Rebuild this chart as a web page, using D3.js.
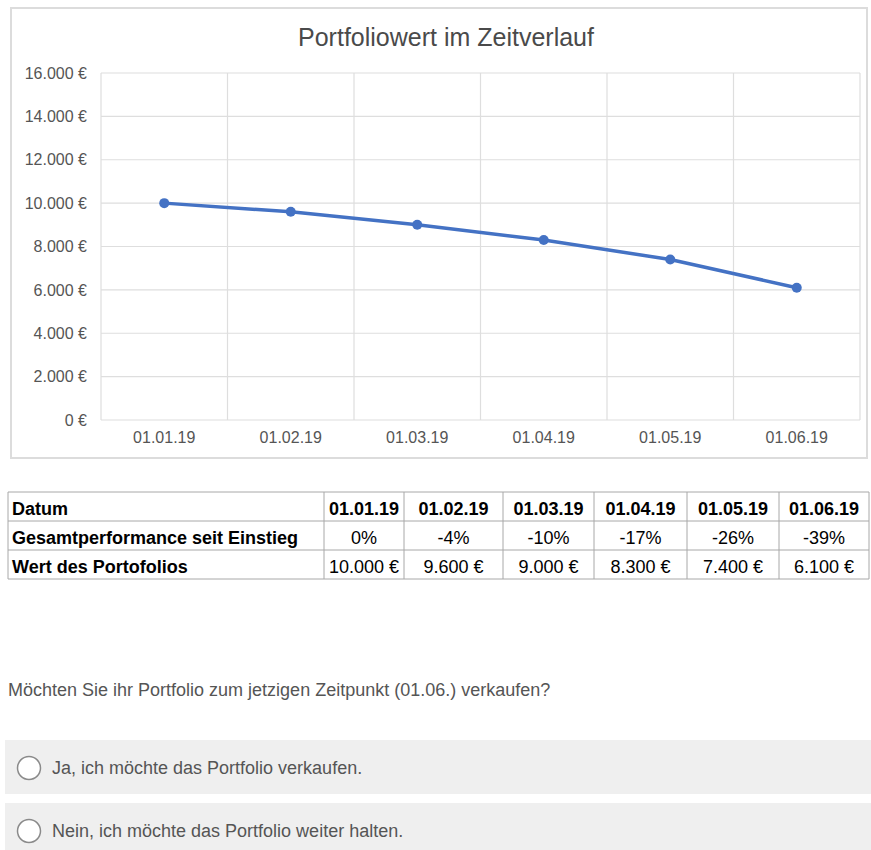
<!DOCTYPE html>
<html lang="de">
<meta charset="UTF-8">
<title>Portfoliowert im Zeitverlauf</title>
<script src="https://cdnjs.cloudflare.com/ajax/libs/d3/7.8.5/d3.min.js"></script>
<style>
  body { margin: 0; background: #fff; font-family: "Liberation Sans", Arial, sans-serif; }
  svg text { font-family: "Liberation Sans", Arial, sans-serif; }
</style>
<body>
<svg id="chart" width="871" height="850"></svg>
<script>
// data
var dates = ["01.01.19", "01.02.19", "01.03.19", "01.04.19", "01.05.19", "01.06.19"];
var values = [10000, 9600, 9000, 8300, 7400, 6100];
var performance = ["0%", "-4%", "-10%", "-17%", "-26%", "-39%"];
var yTicks = [0, 2000, 4000, 6000, 8000, 10000, 12000, 14000, 16000];
var rowLabels = ["Datum", "Gesamtperformance seit Einstieg", "Wert des Portofolios"];
var question = "Möchten Sie ihr Portfolio zum jetzigen Zeitpunkt (01.06.) verkaufen?";
var answers = ["Ja, ich möchte das Portfolio verkaufen.", "Nein, ich möchte das Portfolio weiter halten."];

var de = d3.formatLocale({decimal: ",", thousands: ".", grouping: [3], currency: ["", " €"]});
var euro = de.format("$,.0f");

var svg = d3.select("#chart");

// chart frame
svg.append("rect")
    .attr("x", 11).attr("y", 8).attr("width", 856).attr("height", 450)
    .attr("fill", "#fff").attr("stroke", "#dcdcdc").attr("stroke-width", 2);

svg.append("text")
    .attr("x", 446).attr("y", 46)
    .attr("text-anchor", "middle")
    .style("font-size", "25px")
    .style("fill", "#4a4a4a")
    .text("Portfoliowert im Zeitverlauf");

var plot = {left: 101, right: 860, top: 73, bottom: 420};

var x = d3.scaleBand().domain(dates).range([plot.left, plot.right]);
var y = d3.scaleLinear().domain([0, 16000]).range([plot.bottom, plot.top]);

// grid
var g = svg.append("g");
g.selectAll("line.h").data(yTicks).enter().append("line")
    .attr("x1", plot.left).attr("x2", plot.right)
    .attr("y1", d => y(d)).attr("y2", d => y(d))
    .attr("stroke", "#dedede").attr("stroke-width", 1.2);
var vx = dates.map(d => x(d)).concat([plot.right]);
g.selectAll("line.v").data(vx).enter().append("line")
    .attr("x1", d => d).attr("x2", d => d)
    .attr("y1", plot.top).attr("y2", plot.bottom)
    .attr("stroke", "#dedede").attr("stroke-width", 1.2);

// axes (labels only)
var yAxis = svg.append("g")
    .attr("transform", `translate(${plot.left},0)`)
    .call(d3.axisLeft(y).tickValues(yTicks).tickFormat(euro).tickSize(0).tickPadding(14));
var xAxis = svg.append("g")
    .attr("transform", `translate(0,${plot.bottom})`)
    .call(d3.axisBottom(x).tickSize(0).tickPadding(12));
[yAxis, xAxis].forEach(a => {
  a.select(".domain").remove();
  a.selectAll("text").style("font-size", "16px").style("fill", "#555").style("font-family", "Liberation Sans, Arial, sans-serif");
});

// line
var line = d3.line()
    .x((d, i) => x(dates[i]) + x.bandwidth() / 2)
    .y(d => y(d));
svg.append("path")
    .datum(values)
    .attr("d", line)
    .attr("fill", "none")
    .attr("stroke", "#4472c4")
    .attr("stroke-width", 3.5);
svg.selectAll("circle.pt").data(values).enter().append("circle")
    .attr("cx", (d, i) => x(dates[i]) + x.bandwidth() / 2)
    .attr("cy", d => y(d))
    .attr("r", 5)
    .attr("fill", "#4472c4");

// table
var colEdges = [8, 324, 404, 503, 594, 687, 779, 869];
var rowTop = 492, rowH = 29;
var rows = [dates, performance, values.map(euro)];
var tbl = svg.append("g");
rows.forEach((r, ri) => {
  var ty = rowTop + ri * rowH;
  tbl.append("text")
      .attr("x", colEdges[0] + 4).attr("y", ty + 22.5)
      .style("font-size", "18px").style("font-weight", "bold").style("fill", "#000")
      .text(rowLabels[ri]);
  r.forEach((v, ci) => {
    tbl.append("text")
        .attr("x", (colEdges[ci + 1] + colEdges[ci + 2]) / 2).attr("y", ty + 22.5)
        .attr("text-anchor", "middle")
        .style("font-size", "18px")
        .style("font-weight", ri === 0 ? "bold" : "normal")
        .style("fill", "#000")
        .text(v);
  });
});
for (var i = 0; i <= rows.length; i++) {
  tbl.append("line")
      .attr("x1", colEdges[0]).attr("x2", colEdges[colEdges.length - 1])
      .attr("y1", rowTop + i * rowH).attr("y2", rowTop + i * rowH)
      .attr("stroke", "#a8a8a8");
}
colEdges.forEach(cx => {
  tbl.append("line")
      .attr("x1", cx).attr("x2", cx)
      .attr("y1", rowTop).attr("y2", rowTop + rows.length * rowH)
      .attr("stroke", "#a8a8a8");
});

// question
svg.append("text")
    .attr("x", 8).attr("y", 696)
    .style("font-size", "18px").style("fill", "#555")
    .text(question);

var opt = svg.selectAll("g.opt").data(answers).enter().append("g")
    .attr("transform", (d, i) => `translate(5,${740 + i * 63})`);
opt.append("rect")
    .attr("width", 866).attr("height", 54)
    .attr("fill", "#efefef");
opt.append("circle")
    .attr("cx", 24).attr("cy", 28).attr("r", 11.5)
    .attr("fill", "#fff").attr("stroke", "#8a8a8a").attr("stroke-width", 1.5);
opt.append("text")
    .attr("x", 47).attr("y", 34)
    .style("font-size", "18px").style("fill", "#555")
    .text(d => d);
</script>
</body>
</html>
